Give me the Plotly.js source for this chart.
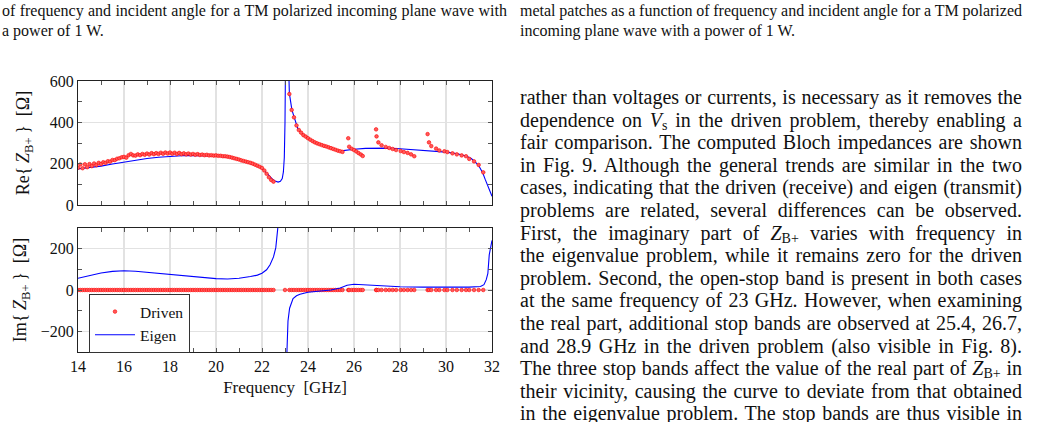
<!DOCTYPE html>
<html>
<head>
<meta charset="utf-8">
<script src="https://cdn.plot.ly/plotly-3.0.1.min.js"></script>
<style>
html,body{margin:0;padding:0;background:#fff;width:1043px;height:422px;overflow:hidden;}
#chart{position:absolute;left:0;top:0;width:1043px;height:422px;}
.txt{position:absolute;font-family:"Liberation Serif","Times New Roman",serif;color:#111;z-index:5;}
.cap{font-size:16px;}
.cap .ln{height:19.5px;line-height:19.5px;}
.body{font-size:20px;}
.body .ln{height:22.6px;line-height:22.6px;}
.ln{display:block;white-space:nowrap;text-align:left;}
sub{font-size:70%;vertical-align:-0.22em;line-height:0;}
</style>
</head>
<body>
<div id="chart"></div>

<div class="txt cap" style="left:2px;top:1px;width:505px;">
<div class="ln">of frequency and incident angle for a TM polarized incoming plane wave with</div>
<div class="ln last">a power of 1 W.</div>
</div>

<div class="txt cap" style="left:520px;top:1px;width:502px;">
<div class="ln">metal patches as a function of frequency and incident angle for a TM polarized</div>
<div class="ln last">incoming plane wave with a power of 1 W.</div>
</div>

<div class="txt body" style="left:520px;top:86px;width:502px;">
<div class="ln">rather than voltages or currents, is necessary as it removes the</div>
<div class="ln">dependence on <i>V</i><sub>s</sub> in the driven problem, thereby enabling a</div>
<div class="ln">fair comparison. The computed Bloch impedances are shown</div>
<div class="ln">in Fig. 9. Although the general trends are similar in the two</div>
<div class="ln">cases, indicating that the driven (receive) and eigen (transmit)</div>
<div class="ln">problems are related, several differences can be observed.</div>
<div class="ln">First, the imaginary part of <i>Z</i><sub>B+</sub> varies with frequency in</div>
<div class="ln">the eigenvalue problem, while it remains zero for the driven</div>
<div class="ln">problem. Second, the open-stop band is present in both cases</div>
<div class="ln">at the same frequency of 23 GHz. However, when examining</div>
<div class="ln">the real part, additional stop bands are observed at 25.4, 26.7,</div>
<div class="ln">and 28.9 GHz in the driven problem (also visible in Fig. 8).</div>
<div class="ln">The three stop bands affect the value of the real part of <i>Z</i><sub>B+</sub> in</div>
<div class="ln">their vicinity, causing the curve to deviate from that obtained</div>
<div class="ln">in the eigenvalue problem. The stop bands are thus visible in</div>
</div>

<script>
// ---------------- data ----------------
var freqTicks = [14, 16, 18, 20, 22, 24, 26, 28, 30, 32];
var reTicks = [0, 200, 400, 600];
var imTicks = [-200, 0, 200];

// Driven problem (markers)
var drivenFreq = [
  14.0,14.1,14.2,14.3,14.4,14.5,14.6,14.7,14.8,14.9,
  15.0,15.1,15.2,15.3,15.4,15.5,15.6,15.7,15.8,15.9,
  16.0,16.1,16.2,16.3,16.4,16.5,16.6,16.7,16.8,16.9,
  17.0,17.1,17.2,17.3,17.4,17.5,17.6,17.7,17.8,17.9,
  18.0,18.1,18.2,18.3,18.4,18.5,18.6,18.7,18.8,18.9,
  19.0,19.1,19.2,19.3,19.4,19.5,19.6,19.7,19.8,19.9,
  20.0,20.1,20.2,20.3,20.4,20.5,20.6,20.7,20.8,20.9,
  21.0,21.1,21.2,21.3,21.4,21.5,21.6,21.7,21.8,21.9,
  22.0,22.1,22.2,22.3,22.4,22.5,
  23.0,23.19,23.29,23.39,23.5,23.6,23.7,23.8,23.9,24.0,24.1,24.2,24.3,24.4,24.5,24.6,24.7,24.8,24.9,25.0,25.1,25.2,25.3,25.4,25.5,
  25.75,25.79,25.9,26.0,26.1,26.2,26.3,26.38,
  26.96,26.98,27.06,27.2,27.38,27.53,27.68,27.83,28.03,28.17,28.33,28.48,28.62,
  29.2,29.26,29.36,29.57,29.71,29.93,30.06,30.28,30.47,30.68,30.87,31.01,31.22,31.42,31.62
];
var drivenRe = [
  180,196,178,197,183,198,188,201,193,204,
  198,207,204,212,210,218,217,224,226,231,
  233,229,241,247,240,239,245,241,247,243,
  249,244,251,246,251,247,253,248,254,249,
  254,248,253,247,252,246,250,245,249,244,
  247,243,246,242,244,241,243,240,241,239,
  240,238,238,236,236,234,232,229,226,223,
  220,216,213,210,207,204,200,195,190,185,
  179,167,151,134,121,113,
  null,537,460,424,385,363,350,338,331,323,316,309,303,298,294,290,286,283,279,275,271,267,263,260,257,
  323,282,272,266,259,251,244,237,
  366,332,303,289,281,276,271,266,261,256,252,245,236,
  343,303,285,273,264,260,256,250,245,240,236,223,211,194,158
];
var drivenIm = [
  0,0,0,0,0,0,0,0,0,0, 0,0,0,0,0,0,0,0,0,0,
  0,0,0,0,0,0,0,0,0,0, 0,0,0,0,0,0,0,0,0,0,
  0,0,0,0,0,0,0,0,0,0, 0,0,0,0,0,0,0,0,0,0,
  0,0,0,0,0,0,0,0,0,0, 0,0,0,0,0,0,0,0,0,0,
  0,0,0,0,0,0,
  0,0,0,0,0,0,0,0,0,0,0,0,0,0,0,0,0,0,0,0,0,0,0,0,0,
  0,0,0,0,0,0,0,0,
  0,0,0,0,0,0,0,0,0,0,0,0,0,
  0,0,0,0,0,0,0,0,0,0,0,0,0,0,0
];

// Eigen problem (lines)
var eigenReFreq = [
  14.0,14.5,15.0,15.5,16.0,16.5,17.0,17.5,18.0,18.5,
  19.0,19.5,20.0,20.5,20.8,21.0,21.4,21.7,22.0,22.15,
  22.3,22.45,22.57,22.7,22.8,22.88,22.93,22.97,23.0,23.03,
  23.1,23.15,23.19,23.3,23.4,23.55,23.7,23.9,24.1,24.4,
  24.7,25.0,25.3,25.45,25.7,26.0,26.5,27.0,27.5,28.0,
  28.5,29.0,29.5,30.0,30.5,30.9,31.1,31.3,31.45,31.6,
  31.7,31.8,31.9,32.0
];
var eigenRe = [
  175,180,188,198,208,217,225,231,236,238,
  240,239,237,231,223,218,203,192,177,162,
  143,125,116,111,115,128,160,230,400,800,
  1200,700,540,460,420,372,350,331,316,298,
  286,276,265,262,266,270,274,276,275,272,
  268,264,260,256,248,236,225,205,185,155,
  125,95,68,42
];
var eigenImFreq = [
  14.0,14.5,15.0,15.5,16.0,16.5,17.0,17.5,18.0,18.5,
  19.0,19.5,20.0,20.5,21.0,21.5,21.8,22.0,22.2,22.35,
  22.5,22.6,22.7,22.76,22.9,23.06,23.08,23.1,23.13,23.2,
  23.35,23.5,23.65,24.0,24.5,25.0,25.4,25.7,26.0,26.5,
  27.0,28.0,29.0,29.7,30.5,31.0,31.5,31.65,31.75,31.82,
  31.88,31.94,32.0
];
var eigenIm = [
  57,70,82,90,93,91,86,80,75,68,
  63,58,55,53,57,65,72,81,98,122,
  160,205,290,380,null,-380,-300,-210,-150,-88,
  -42,-28,-21,-11,-5,0,10,23,28,25,
  21,16,14,13,13,14,17,26,50,80,
  170,210,240
];

// ---------------- text justification (LaTeX-like full lines) ----------------
(function justify() {
  var lines = document.querySelectorAll('.ln');
  for (var i = 0; i < lines.length; i++) {
    var el = lines[i];
    if (el.classList.contains('last')) continue;
    var W = el.parentNode.getBoundingClientRect().width;
    var span = document.createElement('span');
    while (el.firstChild) span.appendChild(el.firstChild);
    el.appendChild(span);
    var w = span.getBoundingClientRect().width;
    var n = (el.textContent.trim().match(/ /g) || []).length;
    if (n > 0) el.style.wordSpacing = ((W - w) / n) + 'px';
  }
})();

// ---------------- chart ----------------
var FONT = '"Liberation Serif", "Times New Roman", serif';
var TXT = '#111111';
var TICKC = '#555555';

function xAxis(extra) {
  var a = {
    range: [14, 32], tickmode: 'array', tickvals: freqTicks,
    ticks: 'inside', ticklen: 4, tickwidth: 1, tickcolor: TICKC,
    minor: { tickmode: 'linear', tick0: 14, dtick: 1, ticks: 'inside', ticklen: 4, tickwidth: 1, tickcolor: TICKC, showgrid: false },
    showgrid: true, gridcolor: '#e2e2e2', gridwidth: 1.3,
    showline: true, linecolor: '#222', linewidth: 1, mirror: 'allticks',
    zeroline: false, tickfont: { family: FONT, size: 16, color: TXT }, fixedrange: true
  };
  for (var k in extra) a[k] = extra[k];
  return a;
}
function yAxis(extra) {
  var a = {
    tickmode: 'array',
    ticks: 'inside', ticklen: 4, tickwidth: 1, tickcolor: TICKC,
    showgrid: true, gridcolor: '#e2e2e2', gridwidth: 1.3,
    showline: true, linecolor: '#222', linewidth: 1, mirror: 'allticks',
    zeroline: false, tickfont: { family: FONT, size: 16, color: TXT }, fixedrange: true
  };
  for (var k in extra) a[k] = extra[k];
  return a;
}

var xDom = [78 / 1043, 492 / 1043];
var markerStyle = { color: '#ff5a5a', size: 3.6, line: { color: '#ff0000', width: 0.6 } };

var traces = [
  { x: eigenReFreq, y: eigenRe, xaxis: 'x2', yaxis: 'y2', type: 'scatter', mode: 'lines',
    line: { color: '#0000ff', width: 1.1 }, showlegend: false, hoverinfo: 'skip' },
  { x: drivenFreq, y: drivenRe, xaxis: 'x2', yaxis: 'y2', type: 'scatter', mode: 'markers',
    marker: markerStyle, showlegend: false, hoverinfo: 'skip' },
  { x: drivenFreq, y: drivenIm, xaxis: 'x', yaxis: 'y', type: 'scatter', mode: 'markers', name: 'Driven',
    marker: markerStyle, legendrank: 1, hoverinfo: 'skip' },
  { x: eigenImFreq, y: eigenIm, xaxis: 'x', yaxis: 'y', type: 'scatter', mode: 'lines', name: 'Eigen',
    line: { color: '#0000ff', width: 1.1 }, connectgaps: false, legendrank: 2, hoverinfo: 'skip' }
];

var TITLEF = { family: FONT, size: 18, color: TXT };
var layout = {
  width: 1043, height: 422,
  margin: { l: 0, r: 0, t: 0, b: 0 },
  paper_bgcolor: 'rgba(0,0,0,0)', plot_bgcolor: '#ffffff',
  font: { family: FONT, size: 16, color: TXT },
  showlegend: true,
  xaxis: xAxis({ domain: xDom, anchor: 'y',
    title: { text: 'Frequency\u00a0\u00a0[GHz]', font: { family: FONT, size: 17, color: TXT }, standoff: 6 } }),
  xaxis2: xAxis({ domain: xDom, anchor: 'y2', matches: 'x', showticklabels: false }),
  yaxis: yAxis({ domain: [70 / 422, 194 / 422], anchor: 'x', range: [-300, 300], tickvals: imTicks,
    minor: { tickmode: 'linear', tick0: 0, dtick: 100, ticks: 'inside', ticklen: 4, tickwidth: 1, tickcolor: TICKC, showgrid: false },
    title: { text: 'Im{\u2009<i>Z</i><sub>B+</sub>\u2009}\u00a0\u00a0[\u03a9]', font: TITLEF, standoff: 9 } }),
  yaxis2: yAxis({ domain: [217 / 422, 341 / 422], anchor: 'x2', range: [0, 600], tickvals: reTicks,
    minor: { tickmode: 'linear', tick0: 0, dtick: 100, ticks: 'inside', ticklen: 4, tickwidth: 1, tickcolor: TICKC, showgrid: false },
    title: { text: 'Re{\u2009<i>Z</i><sub>B+</sub>\u2009}\u00a0\u00a0[\u03a9]', font: TITLEF, standoff: 15 } }),
  legend: {
    x: 89 / 1043, y: (422 - 353) / 422, xanchor: 'left', yanchor: 'bottom',
    bgcolor: '#ffffff', bordercolor: '#333333', borderwidth: 1,
    font: { family: FONT, size: 15.5, color: TXT }, tracegroupgap: 0, traceorder: 'normal',
    itemwidth: 40
  }
};

Plotly.newPlot('chart', traces, layout, { staticPlot: true, displayModeBar: false });
</script>
</body>
</html>
